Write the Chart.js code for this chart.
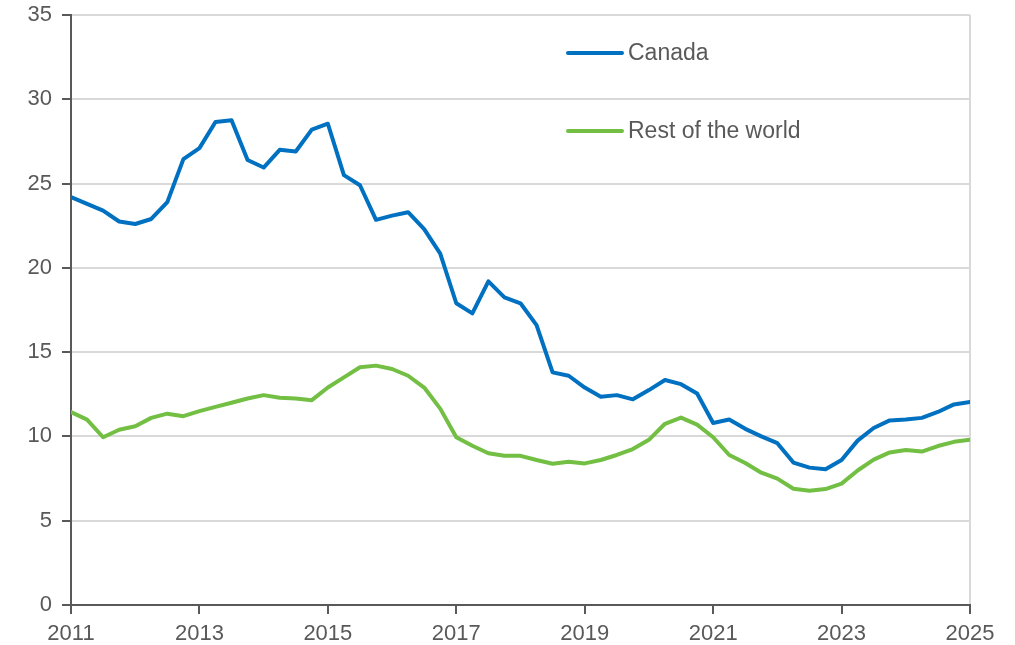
<!DOCTYPE html>
<html>
<head>
<meta charset="utf-8">
<script src="https://cdn.jsdelivr.net/npm/chart.js@4.4.1/dist/chart.umd.min.js"></script>
<style>
  html, body { margin: 0; padding: 0; background: #ffffff; }
  #wrap { width: 1015px; height: 645px; position: relative; }
</style>
</head>
<body>
<div id="wrap"><canvas id="chart" width="1015" height="645"></canvas></div>
<script>
// Quarterly series, first quarter of 2011 through first quarter of 2025
const startYear = 2011;
const seriesNames = ['Canada', 'Rest of the world'];
const canada = [
  24.2, 23.8, 23.4, 22.75, 22.6, 22.9, 23.9, 26.45, 27.1, 28.65,
  28.75, 26.4, 25.95, 27.0, 26.9, 28.2, 28.55, 25.5, 24.9, 22.85,
  23.1, 23.3, 22.3, 20.85, 17.9, 17.3, 19.2, 18.25, 17.9, 16.6,
  13.8, 13.6, 12.9, 12.35, 12.45, 12.2, 12.75, 13.35, 13.1, 12.55,
  10.8, 11.0, 10.45, 10.0, 9.6, 8.45, 8.15, 8.05, 8.6, 9.75,
  10.5, 10.95, 11.0, 11.1, 11.45, 11.9, 12.05
];
const restOfWorld = [
  11.45, 11.0, 9.95, 10.4, 10.6, 11.1, 11.35, 11.2, 11.5, 11.75,
  12.0, 12.25, 12.45, 12.3, 12.25, 12.15, 12.9, 13.5, 14.1, 14.2,
  14.0, 13.6, 12.9, 11.65, 9.95, 9.45, 9.0, 8.85, 8.85, 8.6,
  8.38, 8.5, 8.4, 8.6, 8.9, 9.25, 9.8, 10.75, 11.12, 10.7,
  9.95, 8.9, 8.42, 7.85, 7.5, 6.9, 6.78, 6.88, 7.2, 7.98,
  8.62, 9.05, 9.2, 9.1, 9.43, 9.68, 9.8
];
const xTickYears = [2011, 2013, 2015, 2017, 2019, 2021, 2023, 2025];
const yTickValues = [0, 5, 10, 15, 20, 25, 30, 35];

const toPoints = arr => arr.map((v, i) => ({ x: startYear + i / 4, y: v }));

const axisColor = '#595959';
const gridColor = '#d9d9d9';
const fontFamily = '"Liberation Sans", Arial, sans-serif';

// Legend drawn inside the plot area, one entry per row
const insideLegend = {
  id: 'insideLegend',
  afterDatasetsDraw(chart) {
    const ctx = chart.ctx;
    const rows = [53, 131];
    ctx.save();
    chart.data.datasets.forEach((ds, i) => {
      const y = rows[i];
      ctx.strokeStyle = ds.borderColor;
      ctx.lineWidth = 4;
      ctx.lineCap = 'round';
      ctx.beginPath();
      ctx.moveTo(568, y);
      ctx.lineTo(622, y);
      ctx.stroke();
      ctx.fillStyle = axisColor;
      ctx.font = '23px ' + fontFamily;
      ctx.textBaseline = 'middle';
      ctx.textAlign = 'left';
      ctx.fillText(ds.label, 628, y + 1);
    });
    ctx.restore();
  }
};

new Chart(document.getElementById('chart'), {
  type: 'line',
  data: {
    datasets: [
      { label: seriesNames[0], data: toPoints(canada), borderColor: '#0070C0', backgroundColor: '#0070C0' },
      { label: seriesNames[1], data: toPoints(restOfWorld), borderColor: '#72BF44', backgroundColor: '#72BF44' }
    ]
  },
  options: {
    responsive: false,
    animation: false,
    events: [],
    layout: { padding: { top: 15, right: 45, left: 0, bottom: 0 } },
    elements: {
      point: { radius: 0 },
      line: { borderWidth: 4, tension: 0, borderJoinStyle: 'round', borderCapStyle: 'round' }
    },
    plugins: { legend: { display: false }, tooltip: { enabled: false } },
    scales: {
      x: {
        type: 'linear',
        min: 2011,
        max: 2025,
        afterBuildTicks: s => { s.ticks = xTickYears.map(v => ({ value: v })); },
        afterFit: s => { s.height = 40; s.paddingLeft = 0; s.paddingRight = 0; },
        ticks: {
          color: axisColor,
          font: { family: fontFamily, size: 22 },
          padding: 7,
          maxRotation: 0,
          callback: v => String(v)
        },
        grid: {
          color: c => (c.tick && c.tick.value === 2025 ? gridColor : 'rgba(0,0,0,0)'),
          lineWidth: 2,
          tickColor: axisColor,
          tickLength: 9,
          drawTicks: true
        },
        border: { color: axisColor, width: 2 }
      },
      y: {
        min: 0,
        max: 35,
        afterBuildTicks: s => { s.ticks = yTickValues.map(v => ({ value: v })); },
        afterFit: s => { s.width = 71; s.paddingTop = 0; s.paddingBottom = 0; },
        ticks: {
          color: axisColor,
          font: { family: fontFamily, size: 22 },
          padding: 10
        },
        grid: {
          color: gridColor,
          lineWidth: 2,
          tickColor: axisColor,
          tickLength: 9
        },
        border: { color: axisColor, width: 2 }
      }
    }
  },
  plugins: [insideLegend]
});
</script>
</body>
</html>
